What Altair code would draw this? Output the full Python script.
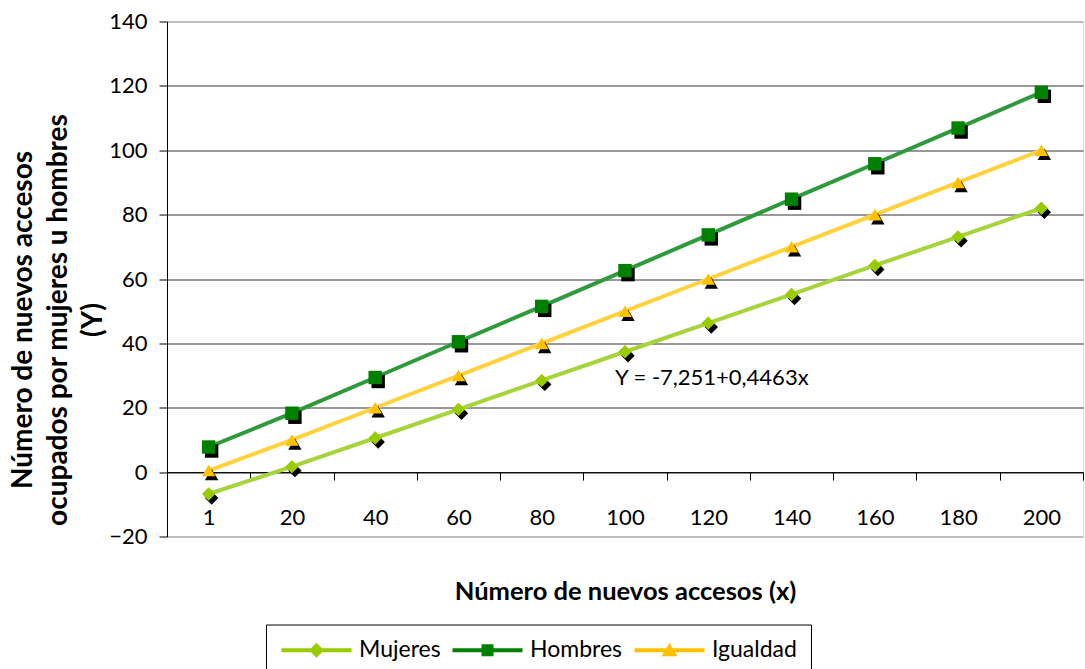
import altair as alt
import pandas as pd

# Category labels on the x axis (number of new positions)
categorias = ["1", "20", "40", "60", "80", "100", "120", "140", "160", "180", "200"]

# Expected positions filled by each group
mujeres = [-6.8, 1.7, 10.6, 19.5, 28.5, 37.4, 46.3, 55.2, 64.2, 73.1, 82.0]
hombres = [7.8, 18.3, 29.4, 40.5, 51.5, 62.6, 73.7, 84.8, 95.8, 106.9, 118.0]
igualdad = [0.5, 10, 20, 30, 40, 50, 60, 70, 80, 90, 100]

series = ["Mujeres", "Hombres", "Igualdad"]
valores = {"Mujeres": mujeres, "Hombres": hombres, "Igualdad": igualdad}

color_linea = {"Mujeres": "#A6D43A", "Hombres": "#2E9A3C", "Igualdad": "#FFD23C"}
color_marca = {"Mujeres": "#99CC00", "Hombres": "#008000", "Igualdad": "#FFC000"}
forma_marca = {"Mujeres": "diamond", "Hombres": "square", "Igualdad": "triangle-up"}

# Legend symbols: a short line segment with the series marker on it
# (unit = 10 px at symbolSize 400, so the segment is 70 px long)
simbolo_leyenda = [
    "M-3.5,-0.2H3.5V0.2H-3.5Z M0,-0.75L0.75,0L0,0.75L-0.75,0Z",
    "M-3.5,-0.2H3.5V0.2H-3.5Z M-0.6,-0.6H0.6V0.6H-0.6Z",
    "M-3.5,-0.2H3.5V0.2H-3.5Z M0,-0.75L0.8,0.6H-0.8Z",
]

ecuacion = "Y = -7,251+0,4463x"

filas = []
for s in series:
    for c, v in zip(categorias, valores[s]):
        filas.append({"cat": c, "serie": s, "valor": v})
df = pd.DataFrame(filas)

FUENTE = "Lato"
FS = 22

x_enc = alt.X(
    "cat:N",
    sort=categorias,
    scale=alt.Scale(type="band", paddingInner=0, paddingOuter=0),
    axis=alt.Axis(
        title="Número de nuevos accesos (x)",
        titleFont=FUENTE,
        titleFontSize=25.5,
        titleFontWeight="bold",
        titleColor="black",
        titleY=119,
        titleBaseline="middle",
        labelFont=FUENTE,
        labelFontSize=FS,
        labelColor="black",
        labelAngle=0,
        labelPadding=27,
        tickBand="extent",
        tickSize=8,
        tickColor="black",
        domainColor="black",
        offset=-64.4,
        grid=False,
    ),
)

y_enc = alt.Y(
    "valor:Q",
    scale=alt.Scale(domain=[-20, 140], nice=False, zero=False),
    axis=alt.Axis(
        values=list(range(-20, 141, 20)),
        title=["Número de nuevos accesos", "ocupados por mujeres u hombres", "(Y)"],
        titleFont=FUENTE,
        titleFontSize=28,
        titleFontWeight="bold",
        titleColor="black",
        titleAngle=270,
        titleAlign="center",
        titleBaseline="top",
        titleLineHeight=35,
        titleX=-158,
        titleY=298,
        labelFont=FUENTE,
        labelFontSize=FS,
        labelColor="black",
        labelPadding=12,
        tickSize=8,
        tickColor="black",
        domainColor="black",
        grid=True,
        gridColor=alt.condition(
            "datum.value == 140 || datum.value == -20",
            alt.value("#8c8c8c"),
            alt.value("#333333"),
        ),
    ),
)

base = alt.Chart(df).encode(x=x_enc, y=y_enc)

# One line per series, then a black drop shadow and the coloured marker
capas = []
for s in series:
    sub = base.transform_filter(alt.datum.serie == s)
    capas.append(sub.mark_line(strokeWidth=4, color=color_linea[s]))
for s in series:
    sub = base.transform_filter(alt.datum.serie == s)
    sombra = sub.mark_point(
        shape=forma_marca[s], filled=True, size=180, color="black",
        opacity=1, xOffset=3, yOffset=4,
    )
    marca = sub.mark_point(
        shape=forma_marca[s], filled=True, size=180, color=color_marca[s], opacity=1,
    )
    capas += [sombra, marca]

# Legend carrier: draws no points itself, only defines the series legend
leyenda = base.transform_filter("false").mark_point(filled=True, opacity=1).encode(
    color=alt.Color(
        "serie:N",
        scale=alt.Scale(domain=series, range=[color_marca[s] for s in series]),
        legend=alt.Legend(
            title=None,
            orient="none",
            legendX=99,
            legendY=603,
            direction="horizontal",
            columns=3,
            symbolSize=400,
            symbolOffset=25,
            symbolStrokeWidth=0,
            symbolOpacity=1,
            labelFont=FUENTE,
            labelFontSize=23,
            labelColor="black",
            labelOffset=31,
            columnPadding=10,
            padding=14,
            strokeColor="black",
            fillColor="white",
        ),
    ),
    shape=alt.Shape(
        "serie:N",
        scale=alt.Scale(domain=series, range=simbolo_leyenda),
    ),
)

texto = alt.Chart(pd.DataFrame({"cat": ["100"], "valor": [30], "t": [ecuacion]})).mark_text(
    align="left", baseline="middle", dx=-10, dy=2,
    font=FUENTE, fontSize=FS, color="black",
).encode(
    x=alt.X("cat:N", sort=categorias),
    y="valor:Q",
    text="t:N",
)

chart = alt.layer(*capas, leyenda, texto).properties(
    width=916,
    height=515,
    autosize=alt.AutoSizeParams(type="none"),
    padding={"left": 167, "top": 21.5, "right": 2, "bottom": 132.5},
).configure_view(
    stroke="#8c8c8c", strokeWidth=1.5
).configure(background="white")

chart.save("out.html", embed_options={"renderer": "svg", "actions": False})
